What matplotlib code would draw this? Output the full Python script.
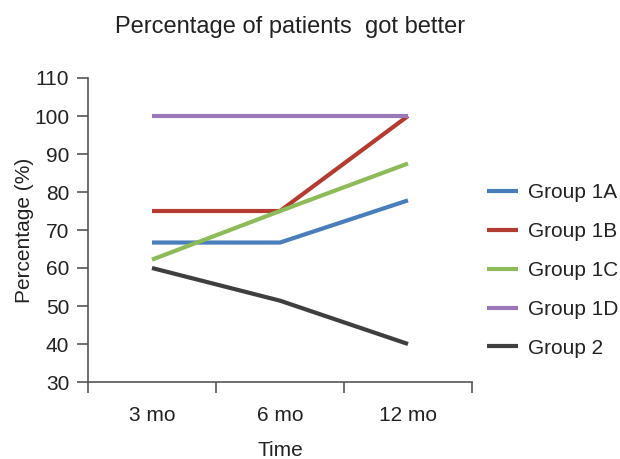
import matplotlib
matplotlib.use("Agg")
import matplotlib.pyplot as plt

plt.rcParams['font.family'] = ['Liberation Sans', 'DejaVu Sans']

categories = ["3 mo", "6 mo", "12 mo"]
group_names = ["Group 1A", "Group 1B", "Group 1C", "Group 1D", "Group 2"]
g1a = [66.7, 66.7, 77.8]
g1b = [75.0, 75.0, 100.0]
g1c = [62.2, 75.0, 87.5]
g1d = [100.0, 100.0, 100.0]
g2 = [60.0, 51.4, 40.0]
series = [g1a, g1b, g1c, g1d, g2]
colors = ["#4A7EBB", "#B33B32", "#8DBB5A", "#9A78B8", "#3F3F3F"]

FS = 15
fig = plt.figure(figsize=(6.2, 4.59), dpi=100)
ax = fig.add_axes([88/620, 1-382/459, (472-88)/620, (382-78)/459])

x = list(range(len(categories)))
for vals, name, c in zip(series, group_names, colors):
    ax.plot(x, vals, color=c, lw=3.0, label=name, solid_capstyle='butt')

ax.set_xlim(-0.5, len(categories)-0.5)
ax.set_ylim(30, 110)
ax.set_yticks(range(30, 111, 10))
ax.set_xticks([i-0.5 for i in range(len(categories)+1)])
ax.set_xticklabels([])
ax.set_xticks(x, minor=True)
ax.set_xticklabels(categories, minor=True)
ax.tick_params(axis='x', which='minor', length=0, pad=17.5, labelsize=FS, colors='#222222')
ax.tick_params(axis='x', which='major', length=8, width=1.2, color='#555555')
ax.tick_params(axis='y', length=8, width=1.2, color='#555555', labelsize=FS, labelcolor='#222222', pad=5.5)

for s in ['top', 'right']:
    ax.spines[s].set_visible(False)
for s in ['left', 'bottom']:
    ax.spines[s].set_color('#555555')
    ax.spines[s].set_linewidth(1.2)

ax.set_ylabel("Percentage (%)", fontsize=FS, color='#222222', labelpad=0)
ax.set_xlabel("Time", fontsize=FS, color='#222222', labelpad=11)
fig.text(290/620, 1-33/459, "Percentage of patients  got better", ha='center', va='baseline',
         fontsize=17, color='#222222')

leg = ax.legend(loc='center left', bbox_to_anchor=(487/620, 1-270.5/459), bbox_transform=fig.transFigure,
                frameon=False, fontsize=FS, handlelength=1.5, handletextpad=0.48,
                labelspacing=0.95, labelcolor='#222222', borderpad=0, borderaxespad=0)

fig.savefig("out.png", dpi=100)
